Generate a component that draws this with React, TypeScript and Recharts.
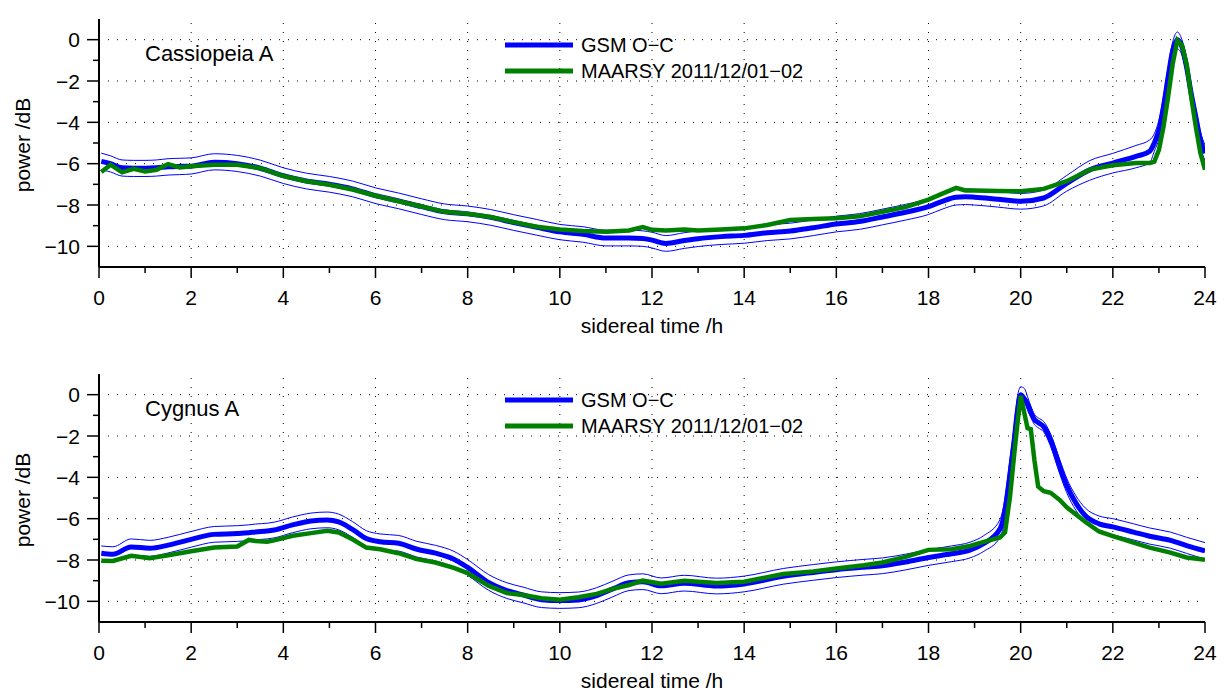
import { LineChart, Line, XAxis, YAxis, ReferenceLine } from "recharts";

// Cassiopeia A panel
const casHours = [0.05, 0.25, 0.5, 0.75, 1, 1.25, 1.5, 1.75, 2, 2.5, 3, 3.5, 4, 4.5, 5, 5.5, 6, 6.5, 7, 7.5, 8, 8.5, 9, 9.5, 10, 10.5, 11, 11.5, 11.8, 12, 12.3, 12.7, 13, 13.5, 14, 14.5, 15, 15.5, 16, 16.5, 17, 17.5, 18, 18.3, 18.6, 18.8, 19, 19.5, 20, 20.5, 21, 21.5, 22, 22.5, 22.8, 22.9, 23, 23.1, 23.2, 23.3, 23.4, 23.5, 23.6, 23.7, 23.8, 23.9, 24];
const casGsm = [-5.89, -6.0, -6.2, -6.22, -6.22, -6.2, -6.15, -6.13, -6.12, -5.93, -6.0, -6.22, -6.58, -6.84, -7.0, -7.22, -7.55, -7.8, -8.08, -8.33, -8.43, -8.6, -8.85, -9.08, -9.3, -9.42, -9.6, -9.6, -9.62, -9.7, -9.86, -9.72, -9.63, -9.53, -9.47, -9.34, -9.26, -9.1, -8.92, -8.8, -8.58, -8.35, -8.08, -7.82, -7.62, -7.6, -7.62, -7.72, -7.82, -7.66, -6.95, -6.3, -5.97, -5.65, -5.4, -5.0, -4.37, -3.24, -1.8, -0.52, 0, -0.35, -1.32, -2.6, -3.73, -4.85, -5.49];
const casGsmHi = [-5.49, -5.62, -5.82, -5.84, -5.84, -5.82, -5.76, -5.74, -5.72, -5.52, -5.6, -5.83, -6.2, -6.46, -6.62, -6.84, -7.17, -7.42, -7.7, -7.95, -8.05, -8.22, -8.47, -8.7, -8.94, -9.05, -9.22, -9.22, -9.25, -9.32, -9.48, -9.34, -9.25, -9.15, -9.09, -8.96, -8.88, -8.72, -8.54, -8.42, -8.2, -7.97, -7.7, -7.44, -7.24, -7.22, -7.24, -7.34, -7.44, -7.28, -6.57, -5.85, -5.5, -5.12, -4.85, -4.55, -3.9, -2.75, -1.35, -0.1, 0.37, 0.0, -0.9, -2.2, -3.35, -4.45, -5.1];
const casGsmLo = [-6.29, -6.4, -6.6, -6.62, -6.62, -6.6, -6.55, -6.53, -6.5, -6.3, -6.38, -6.6, -6.96, -7.22, -7.38, -7.6, -7.93, -8.18, -8.46, -8.71, -8.81, -8.98, -9.23, -9.46, -9.68, -9.8, -9.98, -9.98, -10.0, -10.08, -10.24, -10.1, -10.01, -9.91, -9.85, -9.72, -9.64, -9.48, -9.3, -9.18, -8.96, -8.73, -8.46, -8.2, -8.0, -7.98, -8.0, -8.1, -8.2, -8.04, -7.33, -6.8, -6.45, -6.2, -5.95, -5.4, -4.8, -3.7, -2.25, -0.95, -0.45, -0.75, -1.7, -3.0, -4.1, -5.2, -5.85];
const casMaarsy = [-6.4, -6.05, -6.42, -6.25, -6.38, -6.3, -6.02, -6.18, -6.12, -6.05, -6.05, -6.22, -6.6, -6.85, -7.02, -7.25, -7.55, -7.82, -8.07, -8.33, -8.42, -8.58, -8.83, -9.05, -9.18, -9.26, -9.3, -9.23, -9.07, -9.2, -9.23, -9.18, -9.23, -9.18, -9.13, -8.97, -8.73, -8.68, -8.64, -8.55, -8.33, -8.1, -7.74, -7.45, -7.17, -7.3, -7.3, -7.32, -7.34, -7.22, -6.85, -6.29, -6.08, -5.97, -5.97, -5.9, -5.33, -4.21, -2.76, -1.16, -0.03, -0.27, -1.16, -2.76, -4.21, -5.49, -6.29];

// Cygnus A panel
const cygHours = [0.05, 0.3, 0.7, 1.1, 1.5, 2, 2.5, 3, 3.25, 3.4, 3.65, 3.8, 4.2, 4.6, 4.95, 5.2, 5.5, 5.8, 6.1, 6.5, 6.9, 7.3, 7.7, 8, 8.45, 8.85, 9.2, 9.6, 10, 10.4, 10.8, 11.15, 11.5, 11.8, 12.2, 12.7, 13.4, 14, 14.85, 15.5, 16, 16.6, 17, 17.5, 18, 18.5, 18.9, 19.2, 19.55, 19.66, 19.77, 19.85, 19.93, 20.0, 20.08, 20.15, 20.22, 20.3, 20.38, 20.5, 20.65, 20.85, 21.0, 21.2, 21.4, 21.7, 22, 22.45, 22.8, 23.25, 23.6, 24];
const cygGsm = [-7.67, -7.72, -7.37, -7.43, -7.28, -7.0, -6.76, -6.72, -6.68, -6.64, -6.6, -6.55, -6.3, -6.11, -6.06, -6.16, -6.52, -6.96, -7.12, -7.19, -7.48, -7.67, -7.96, -8.36, -9.08, -9.48, -9.69, -9.92, -9.96, -9.93, -9.72, -9.4, -9.1, -9.05, -9.25, -9.12, -9.26, -9.16, -8.79, -8.6, -8.47, -8.35, -8.28, -8.1, -7.88, -7.7, -7.52, -7.2, -6.5, -5.6, -3.8, -2.4, -0.8, 0, -0.2, -0.45, -0.85, -1.2, -1.35, -1.55, -2.2, -3.5, -4.4, -5.25, -5.85, -6.25, -6.4, -6.65, -6.85, -7.05, -7.3, -7.56];
const cygGsmHi = [-7.32, -7.36, -6.98, -7.05, -6.9, -6.62, -6.38, -6.34, -6.3, -6.26, -6.22, -6.17, -5.92, -5.73, -5.68, -5.78, -6.14, -6.58, -6.74, -6.81, -7.1, -7.29, -7.58, -7.98, -8.7, -9.1, -9.31, -9.54, -9.58, -9.55, -9.34, -9.02, -8.72, -8.67, -8.87, -8.74, -8.88, -8.78, -8.41, -8.22, -8.09, -7.97, -7.9, -7.72, -7.5, -7.32, -7.14, -6.82, -6.05, -5.0, -3.1, -1.7, -0.1, 0.38, 0.3, -0.1, -0.55, -0.95, -1.12, -1.3, -1.9, -3.15, -4.05, -4.9, -5.48, -5.87, -6.0, -6.25, -6.45, -6.65, -6.9, -7.16];
const cygGsmLo = [-8.08, -8.1, -7.76, -7.82, -7.66, -7.38, -7.14, -7.1, -7.06, -7.02, -6.98, -6.93, -6.68, -6.49, -6.44, -6.54, -6.9, -7.34, -7.5, -7.57, -7.86, -8.05, -8.34, -8.74, -9.46, -9.86, -10.07, -10.3, -10.34, -10.31, -10.1, -9.78, -9.48, -9.43, -9.63, -9.5, -9.64, -9.54, -9.17, -8.98, -8.85, -8.73, -8.66, -8.48, -8.26, -8.08, -7.9, -7.58, -6.9, -6.1, -4.4, -3.0, -1.5, -0.55, -0.42, -0.75, -1.1, -1.45, -1.6, -1.8, -2.5, -3.85, -4.75, -5.6, -6.2, -6.62, -6.78, -7.03, -7.23, -7.43, -7.68, -7.96];
const cygMaarsy = [-8.04, -8.05, -7.8, -7.91, -7.77, -7.58, -7.4, -7.35, -7.03, -7.08, -7.12, -7.05, -6.83, -6.7, -6.59, -6.67, -7.0, -7.4, -7.48, -7.67, -7.96, -8.12, -8.38, -8.63, -9.24, -9.6, -9.69, -9.85, -9.92, -9.8, -9.64, -9.4, -9.21, -9.0, -9.15, -9.0, -9.11, -9.05, -8.68, -8.55, -8.41, -8.25, -8.12, -7.85, -7.51, -7.48, -7.32, -7.12, -6.91, -6.67, -4.91, -3.1, -1.4, -0.05, -0.9, -1.62, -1.67, -3.2, -4.45, -4.67, -4.75, -5.1, -5.45, -5.8, -6.15, -6.62, -6.84, -7.16, -7.4, -7.64, -7.88, -7.99];

const xTicks = [0, 1, 2, 3, 4, 5, 6, 7, 8, 9, 10, 11, 12, 13, 14, 15, 16, 17, 18, 19, 20, 21, 22, 23, 24];
const yTicks = [-10, -9, -8, -7, -6, -5, -4, -3, -2, -1, 0];
const xGrid = [2, 4, 6, 8, 10, 12, 14, 16, 18, 20, 22];
const yGrid = [-10, -8, -6, -4, -2, 0];
const legendNames = ["GSM O\u2212C", "MAARSY 2011/12/01\u221202"];

const W = 1226;
const H = 346;
const FONT = "'Liberation Sans', Arial, Helvetica, sans-serif";

const fmt = (v: number) => (v < 0 ? `\u2212${Math.abs(v)}` : `${v}`);

const BottomTick = (props: any) => {
  const { x, y, payload } = props;
  const major = payload.value % 2 === 0;
  return (
    <g>
      <line x1={x} y1={y} x2={x} y2={y + (major ? 11 : 6)} stroke="#000" strokeWidth={1.5} />
      {major && (
        <text x={x} y={y + 30} textAnchor="middle" dominantBaseline="central" fontSize={21} fill="#000" fontFamily={FONT}>
          {payload.value}
        </text>
      )}
    </g>
  );
};

const TopTick = (props: any) => {
  const { x, y, payload } = props;
  const major = payload.value % 2 === 0;
  return <line x1={x} y1={y} x2={x} y2={y - (major ? 11 : 6)} stroke="#000" strokeWidth={1.5} />;
};

const LeftTick = (props: any) => {
  const { x, y, payload } = props;
  const major = payload.value % 2 === 0;
  return (
    <g>
      <line x1={x} y1={y} x2={x - (major ? 12 : 6)} y2={y} stroke="#000" strokeWidth={1.5} />
      {major && (
        <text x={x - 19} y={y} textAnchor="end" dominantBaseline="central" fontSize={21} fill="#000" fontFamily={FONT}>
          {fmt(payload.value)}
        </text>
      )}
    </g>
  );
};

const RightTick = (props: any) => {
  const { x, y, payload } = props;
  const major = payload.value % 2 === 0;
  return <line x1={x} y1={y} x2={x + (major ? 12 : 6)} y2={y} stroke="#000" strokeWidth={1.5} />;
};

interface PanelProps {
  top: number;
  name: string;
  hours: number[];
  gsm: number[];
  hi: number[];
  lo: number[];
  maarsy: number[];
}

const Panel = ({ top, name, hours, gsm, hi, lo, maarsy }: PanelProps) => {
  const rows = hours.map((h, i) => ({ h, gsm: gsm[i], hi: hi[i], lo: lo[i], maarsy: maarsy[i] }));
  return (
    <div style={{ position: "absolute", left: 0, top, width: W, height: H }}>
      <LineChart width={W} height={H} data={rows} margin={{ top: 19, right: 21, left: 0, bottom: 19 }}>
        <XAxis
          xAxisId="b"
          dataKey="h"
          type="number"
          domain={[0, 24]}
          ticks={xTicks}
          interval={0}
          allowDataOverflow
          height={60}
          tickSize={0}
          tickMargin={0}
          tickLine={false}
          axisLine={{ stroke: "#000", strokeWidth: 2 }}
          tick={<BottomTick />}
        />
        <XAxis
          xAxisId="t"
          orientation="top"
          dataKey="h"
          type="number"
          domain={[0, 24]}
          ticks={xTicks}
          interval={0}
          allowDataOverflow
          height={0}
          tickSize={0}
          tickMargin={0}
          tickLine={false}
          axisLine={{ stroke: "#000", strokeWidth: 2 }}
          tick={<TopTick />}
        />
        <YAxis
          yAxisId="l"
          type="number"
          domain={[-11, 1]}
          ticks={yTicks}
          interval={0}
          allowDataOverflow
          width={99}
          tickSize={0}
          tickMargin={0}
          tickLine={false}
          axisLine={{ stroke: "#000", strokeWidth: 2 }}
          tick={<LeftTick />}
        />
        <YAxis
          yAxisId="r"
          orientation="right"
          type="number"
          domain={[-11, 1]}
          ticks={yTicks}
          interval={0}
          allowDataOverflow
          width={0}
          tickSize={0}
          tickMargin={0}
          tickLine={false}
          axisLine={{ stroke: "#000", strokeWidth: 2 }}
          tick={<RightTick />}
        />
        {xGrid.map((v) => (
          <ReferenceLine key={`x${v}`} xAxisId="b" yAxisId="l" x={v} stroke="#000" strokeWidth={1} strokeDasharray="1 8" />
        ))}
        {yGrid.map((v) => (
          <ReferenceLine key={`y${v}`} xAxisId="b" yAxisId="l" y={v} stroke="#000" strokeWidth={1} strokeDasharray="1 8" />
        ))}
        <Line xAxisId="b" yAxisId="l" dataKey="gsm" type="monotone" stroke="#0000ff" strokeWidth={5} dot={false} isAnimationActive={false} />
        <Line xAxisId="b" yAxisId="l" dataKey="hi" type="monotone" stroke="#0000ff" strokeWidth={1} dot={false} isAnimationActive={false} />
        <Line xAxisId="b" yAxisId="l" dataKey="lo" type="monotone" stroke="#0000ff" strokeWidth={1} dot={false} isAnimationActive={false} />
        <Line xAxisId="b" yAxisId="l" dataKey="maarsy" type="linear" stroke="#008000" strokeWidth={4.5} dot={false} isAnimationActive={false} />
      </LineChart>
      <svg width={W} height={H} style={{ position: "absolute", left: 0, top: 0, pointerEvents: "none" }} fontFamily={FONT}>
        <text x={145} y={53} fontSize={22} dominantBaseline="central" fill="#000">
          {name}
        </text>
        <line x1={505} y1={45} x2={573} y2={45} stroke="#0000ff" strokeWidth={5} />
        <text x={581} y={45} fontSize={20} dominantBaseline="central" fill="#000">
          {legendNames[0]}
        </text>
        <line x1={505} y1={71} x2={573} y2={71} stroke="#008000" strokeWidth={5} />
        <text x={581} y={71} fontSize={20} dominantBaseline="central" fill="#000">
          {legendNames[1]}
        </text>
        <text x={652} y={325} fontSize={21} textAnchor="middle" dominantBaseline="central" fill="#000">
          sidereal time /h
        </text>
        <text x={22} y={145} fontSize={21} textAnchor="middle" dominantBaseline="central" fill="#000" transform="rotate(-90 22 145)">
          power /dB
        </text>
      </svg>
    </div>
  );
}

export default function App() {
  return (
    <div style={{ position: "absolute", left: 0, top: 0, width: W, height: 692, background: "#fff", overflow: "hidden" }}>
      <Panel top={0} name="Cassiopeia A" hours={casHours} gsm={casGsm} hi={casGsmHi} lo={casGsmLo} maarsy={casMaarsy} />
      <Panel top={355} name="Cygnus A" hours={cygHours} gsm={cygGsm} hi={cygGsmHi} lo={cygGsmLo} maarsy={cygMaarsy} />
    </div>
  );
}
